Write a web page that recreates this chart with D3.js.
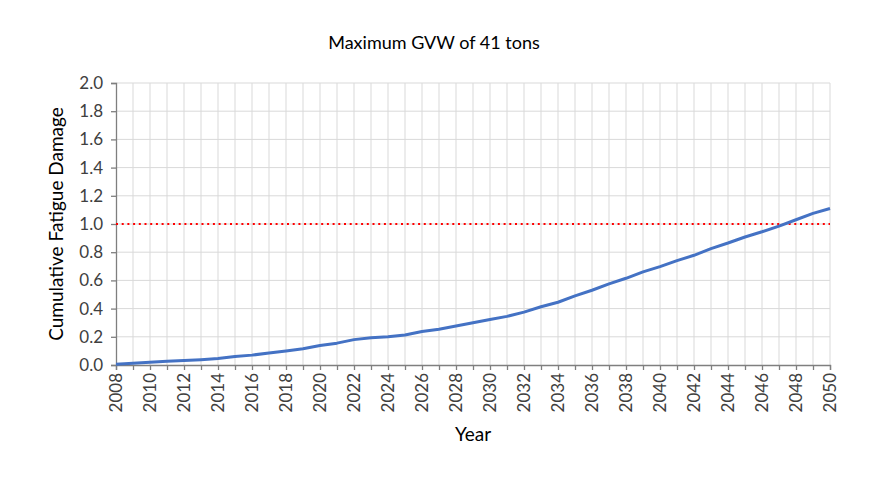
<!DOCTYPE html>
<html>
<head>
<meta charset="utf-8">
<script src="https://cdn.jsdelivr.net/npm/d3@7"></script>
<style>
  body { margin: 0; background: #fff; }
  svg { display: block; }
  text { font-family: Lato, "Open Sans", sans-serif; fill: #404040; }
</style>
</head>
<body>
<svg id="chart" width="881" height="494"></svg>
<script>
'use strict';

// yearly cumulative damage
var aYears = d3.range(2008, 2051);
var aDamage = [
  0.005, 0.012, 0.020, 0.026, 0.032, 0.038, 0.046, 0.060, 0.070, 0.085,
  0.100, 0.115, 0.138, 0.155, 0.180, 0.193, 0.200, 0.213, 0.238, 0.254,
  0.276, 0.300, 0.322, 0.345, 0.375, 0.413, 0.445, 0.490, 0.530, 0.575,
  0.615, 0.660, 0.698, 0.740, 0.778, 0.825, 0.865, 0.908, 0.945, 0.985,
  1.030, 1.075, 1.110
];
var aYTicks = [0, 0.2, 0.4, 0.6, 0.8, 1.0, 1.2, 1.4, 1.6, 1.8, 2.0];
var aXLabels = d3.range(2008, 2051, 2);
var nLimit = 1.0;

var svg = d3.select('#chart');
var margin = {left: 116, right: 51, top: 83, bottom: 129};
var w = 881 - margin.left - margin.right;
var h = 494 - margin.top - margin.bottom;

var x = d3.scaleLinear().domain([2008, 2050]).range([0, w]);
var y = d3.scaleLinear().domain([0, 2]).range([h, 0]);

var g = svg.append('g').attr('transform', `translate(${margin.left},${margin.top})`);

// gridlines
g.append('g').selectAll('line').data(aYears.slice(1)).join('line')
  .attr('x1', d => x(d)).attr('x2', d => x(d))
  .attr('y1', 0).attr('y2', h)
  .attr('stroke', '#d9d9d9').attr('stroke-width', 1);
g.append('g').selectAll('line').data(aYTicks.slice(1)).join('line')
  .attr('x1', 0).attr('x2', w)
  .attr('y1', d => y(d)).attr('y2', d => y(d))
  .attr('stroke', '#d9d9d9').attr('stroke-width', 1);

// axes
var yAxis = g.append('g')
  .call(d3.axisLeft(y).tickValues(aYTicks).tickFormat(d3.format('.1f')).tickSize(5).tickPadding(8));
var xAxis = g.append('g').attr('transform', `translate(0,${h})`)
  .call(d3.axisBottom(x).tickValues(aYears).tickFormat(d => aXLabels.includes(d) ? d : '').tickSize(5).tickPadding(6));

[yAxis, xAxis].forEach(a => {
  a.select('.domain').attr('stroke', '#7f7f7f').attr('stroke-width', 1.3);
  a.selectAll('.tick line').attr('stroke', '#7f7f7f').attr('stroke-width', 1.3);
  a.selectAll('text').style('font-size', '17px').attr('fill', '#404040');
});
xAxis.selectAll('text')
  .attr('transform', 'rotate(-90)')
  .attr('text-anchor', 'end')
  .attr('x', -8).attr('y', 0).attr('dy', '0.35em');

// limit line
g.append('line')
  .attr('x1', 0).attr('x2', w)
  .attr('y1', y(nLimit)).attr('y2', y(nLimit))
  .attr('stroke', '#ff0000').attr('stroke-width', 2)
  .attr('stroke-dasharray', '2,3.7');

// damage curve
var line = d3.line().x((d, i) => x(aYears[i])).y(d => y(d));
g.append('path').datum(aDamage)
  .attr('d', line)
  .attr('fill', 'none')
  .attr('stroke', '#4472c4')
  .attr('stroke-width', 3)
  .attr('stroke-linejoin', 'round');

// titles
svg.append('text').attr('x', 434).attr('y', 49)
  .attr('text-anchor', 'middle').style('font-size', '18px')
  .style('fill', '#000').text('Maximum GVW of 41 tons');
svg.append('text').attr('x', margin.left + w / 2).attr('y', 441)
  .attr('text-anchor', 'middle').style('font-size', '19px').style('fill', '#000').text('Year');
svg.append('text').attr('transform', `translate(63,${margin.top + h / 2}) rotate(-90)`)
  .attr('text-anchor', 'middle').style('font-size', '19px').style('fill', '#000').text('Cumulative Fatigue Damage');
</script>
</body>
</html>
